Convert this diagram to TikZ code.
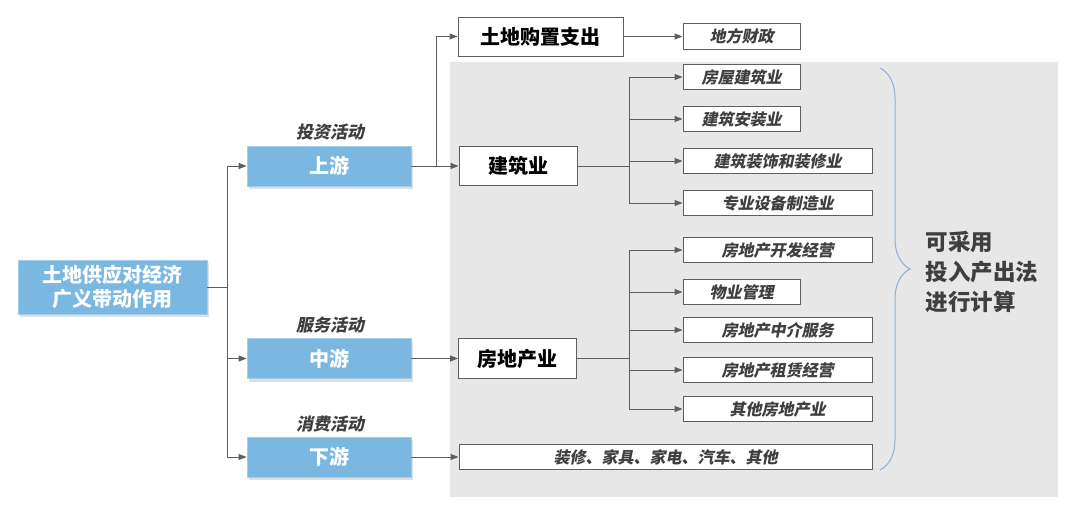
\documentclass[tikz,border=0pt]{standalone}
\usepackage{fontspec}
\setmainfont{Noto Sans CJK SC}
\newfontfamily\cjkit{Noto Sans CJK SC}[FakeSlant=0.2]
\usepackage{tikz}
\usetikzlibrary{arrows.meta,positioning,calc,shadows,decorations.pathreplacing}
\definecolor{ChainBlue}{HTML}{7AB7E1}
\definecolor{ChainPanel}{HTML}{E7E7E7}
\definecolor{ChainLine}{HTML}{5E5E5E}
\definecolor{ChainText}{HTML}{3F3F3F}
\definecolor{ChainBrace}{HTML}{8BAFD9}

\begin{document}
\begin{tikzpicture}[x=1pt,y=-1pt,
  stream/.style={fill=ChainBlue,draw=ChainBlue!70!white,line width=0.8pt,minimum width=164pt,minimum height=40pt,inner sep=0pt,text=white,font=\fontsize{20}{24}\selectfont\bfseries,
    drop shadow={opacity=0.25,shadow xshift=2pt,shadow yshift=-3pt}},
  sector/.style={draw=ChainLine,fill=white,line width=0.9pt,minimum width=118pt,minimum height=39pt,inner sep=0pt,font=\fontsize{20}{24}\selectfont\bfseries},
  sub/.style={draw=ChainLine,fill=white,line width=0.9pt,minimum width=117pt,minimum height=25pt,inner sep=0pt,text=ChainText,font=\cjkit\fontsize{16}{18}\selectfont\bfseries},
  subwide/.style={sub,minimum width=189pt},
  activity/.style={text=ChainText,font=\cjkit\fontsize{17}{20}\selectfont\bfseries},
  arr/.style={-{Triangle[length=8pt,width=6pt]},line width=1pt,ChainLine},
  link/.style={line width=1pt,ChainLine},
]
\useasboundingbox (0,0) rectangle (1080,504);
% grey panel behind the industries
\fill[ChainPanel] (450,62) rectangle (1058,497);

% left side
\node[stream,minimum width=189pt,minimum height=54pt,align=center,font=\fontsize{20}{24}\selectfont\bfseries] (root) at (112.5,287) {土地供应对经济\\广义带动作用};
\node[stream] (up) at (329,166) {上游};
\node[stream] (mid) at (329,358.5) {中游};
\node[stream] (down) at (329,457) {下游};
\node[activity] at (330,132) {投资活动};
\node[activity] at (330,325) {服务活动};
\node[activity] at (330,424) {消费活动};

% upstream
\node[sector,minimum width=165pt] (land) at (540.5,36.5) {土地购置支出};
\node[sub,minimum height=26pt] (fiscal) at (741.5,36.5) {地方财政};
\node[sector] (build) at (518,166) {建筑业};
\node[sub] (b1) at (741.5,77) {房屋建筑业};
\node[sub] (b2) at (741.5,119) {建筑安装业};
\node[subwide] (b3) at (777.5,161) {建筑装饰和装修业};
\node[subwide] (b4) at (777.5,203) {专业设备制造业};

% midstream
\node[sector,minimum height=40pt] (estate) at (517.5,358.5) {房地产业};
\node[subwide] (e1) at (777.5,250) {房地产开发经营};
\node[sub] (e2) at (741.5,292) {物业管理};
\node[subwide] (e3) at (777.5,330) {房地产中介服务};
\node[subwide] (e4) at (777.5,370) {房地产租赁经营};
\node[subwide] (e5) at (777.5,409) {其他房地产业};

% downstream
\node[sub,minimum width=413pt] (goods) at (665.5,457) {装修、家具、家电、汽车、其他};

% connectors
\coordinate (trunk) at (227,287);
\draw[link] (root.east) -- (trunk);
\foreach \t in {up,mid,down}
  \draw[arr] (trunk) |- (\t.west);
\coordinate (upsplit) at (436,166);
\draw[arr] (up.east) -- (build.west);
\draw[arr] (upsplit) |- (land.west);
\draw[arr] (land) -- (fiscal);
\coordinate (buildsplit) at (629,166);
\draw[link] (build.east) -- (buildsplit);
\foreach \t in {b1,b2,b3,b4}
  \draw[arr] (buildsplit) |- (\t.west);
\draw[arr] (mid) -- (estate);
\coordinate (estatesplit) at (629,358.5);
\draw[link] (estate.east) -- (estatesplit);
\foreach \t in {e1,e2,e3,e4,e5}
  \draw[arr] (estatesplit) |- (\t.west);
\draw[arr] (down) -- (goods);

% brace and note
\coordinate (bracetop) at (880,68);
\coordinate (bracebot) at (880,470);
\draw[ChainBrace,line width=1pt,decorate,decoration={brace,amplitude=30pt,aspect=0.5}] (bracetop) -- (bracebot);
\node[text=ChainText,align=left,anchor=west,font=\fontsize{22.5}{30}\selectfont\bfseries] (note) at (922,272) {可采用\\投入产出法\\进行计算};
\end{tikzpicture}
\end{document}
